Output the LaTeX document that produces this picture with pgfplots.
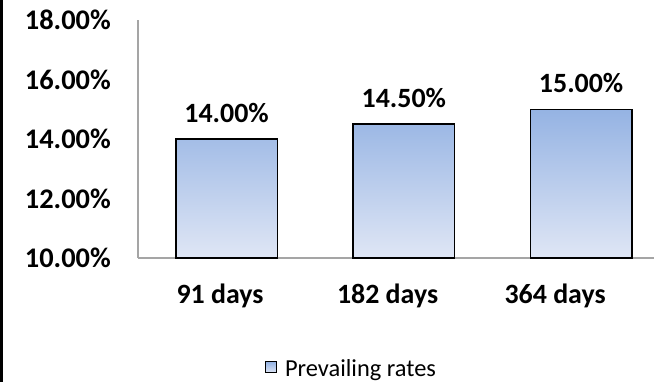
\documentclass[border=0pt]{standalone}
\usepackage{pgfplots}
\pgfplotsset{compat=1.18}
\usepackage{fontspec}
\setmainfont{Carlito}
\definecolor{bartop}{RGB}{149,179,227}
\definecolor{barbot}{RGB}{223,230,245}
\definecolor{axgray}{RGB}{165,165,165}
\begin{document}
\begin{tikzpicture}[x=1bp,y=1bp]
\useasboundingbox (0,0) rectangle (654,382);
\fill[black] (0,0) rectangle (2.5,382);
\begin{axis}[
  at={(138bp,124bp)}, anchor=south west,
  scale only axis, width=531.75bp, height=238bp,
  xmin=-0.5, xmax=2.5, ymin=10, ymax=18,
  y coord trafo/.code={\pgfmathparse{#1-10}},
  y coord inv trafo/.code={\pgfmathparse{#1+10}},
  axis x line*=bottom, axis y line*=left,
  axis line style={axgray, line width=1.2bp},
  major tick length=0pt,
  ytick={10,12,14,16,18},
  yticklabels={10.00\%,12.00\%,14.00\%,16.00\%,18.00\%},
  yticklabel style={anchor=east, inner sep=0pt, xshift=-27bp, font=\fontsize{28.5}{33}\selectfont\bfseries},
  xtick={-0.037,0.908,1.853},
  xticklabels={91 days,182 days,364 days},
  xticklabel style={anchor=base, inner sep=0pt, yshift=-45bp, font=\fontsize{28}{33}\selectfont\bfseries},
  ybar, bar width=101.5bp,
  point meta=rawy,
  /pgf/number format/assume math mode=true,
  nodes near coords={\pgfmathprintnumber[fixed,fixed zerofill,precision=2,assume math mode=true]{\pgfplotspointmeta}\%},
  nodes near coords style={anchor=base, inner sep=0pt, yshift=17bp, font=\fontsize{28}{33}\selectfont\bfseries, black},
  legend style={at={(0.4015,-0.466)}, anchor=center, draw=none, fill=none,
    font=\fontsize{24.5}{29}\selectfont, inner sep=0pt,
    /tikz/every odd column/.append style={column sep=6bp}},
  legend image code/.code={\draw[black, line width=1bp, top color=bartop, bottom color=barbot] (0bp,-4bp) rectangle (11bp,7bp);},
]
\addplot[draw=black, line width=1.3bp, top color=bartop, bottom color=barbot]
  coordinates {(0,14) (1,14.5) (2,15)};
\addlegendentry{Prevailing rates}
\end{axis}
\end{tikzpicture}
\end{document}
